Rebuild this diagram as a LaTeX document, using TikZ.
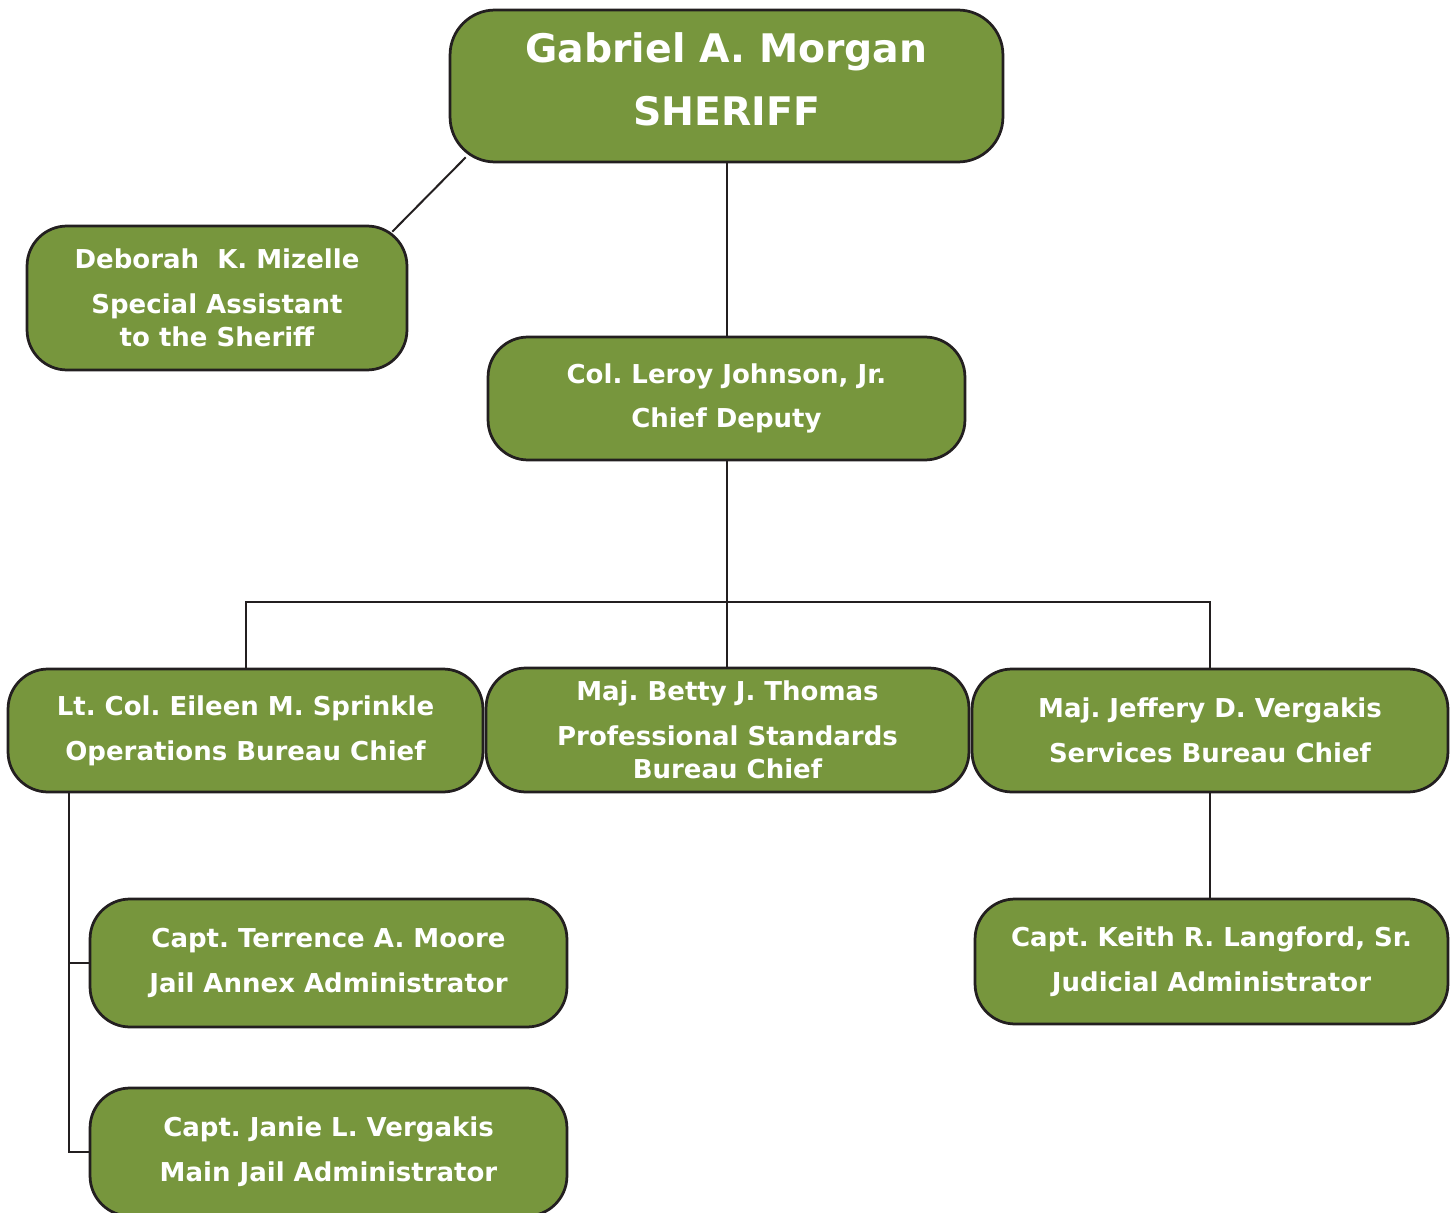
\documentclass[tikz,border=0pt]{standalone}
\usepackage{fontspec}
\setmainfont{DejaVu Sans}
\usetikzlibrary{calc}
\frenchspacing
\definecolor{sheriffgreen}{RGB}{119,150,61}
\definecolor{boxline}{RGB}{35,31,32}
\tikzset{
  box/.style={rectangle, rounded corners=0.8cm, draw=boxline, line width=0.055cm,
    fill=sheriffgreen, text=white, align=center, inner sep=0pt,
    font=\bfseries\fontsize{14.8}{18.7}\selectfont},
  link/.style={draw=boxline, line width=0.04cm}
}
\begin{document}
\begin{tikzpicture}[x=0.02cm, y=-0.02cm]
        \useasboundingbox (0,0) rectangle (1455,1213);
        %sheriff and assistant
        \node[box, rounded corners=0.9cm, minimum width=11.06cm, minimum height=3.04cm, text depth=0.28cm,
          font=\bfseries\fontsize{22.4}{35.7}\selectfont] (sheriff) at (726.5,86) {Gabriel A. Morgan\\SHERIFF};
        \node[box, minimum width=7.6cm, minimum height=2.88cm] (mizelle) at (217,298)
          {Deborah~~K. Mizelle\\[6.8pt]Special Assistant\\to the Sheriff};
        %chief deputy
        \node[box, minimum width=9.54cm, minimum height=2.46cm] (johnson) at (726.5,398.5)
          {Col. Leroy Johnson, Jr.\\[6.8pt]Chief Deputy};
        %bureau chiefs
        \node[box, minimum width=9.5cm, minimum height=2.46cm] (operations) at (245.5,730.5)
          {Lt. Col. Eileen M. Sprinkle\\[6.8pt]Operations Bureau Chief};
        \node[box, minimum width=9.66cm, minimum height=2.48cm] (standards) at (727.5,730)
          {Maj. Betty J. Thomas\\[6.8pt]Professional Standards\\Bureau Chief};
        \node[box, minimum width=9.52cm, minimum height=2.46cm] (services) at (1210,730.5)
          {Maj. Jeffery D. Vergakis\\[6.8pt]Services Bureau Chief};
        %administrators
        \node[box, minimum width=9.54cm, minimum height=2.56cm] (annex) at (328.5,963)
          {Capt. Terrence A. Moore\\[6.8pt]Jail Annex Administrator};
        \node[box, minimum width=9.54cm, minimum height=2.56cm] (mainjail) at (328.5,1152)
          {Capt. Janie L. Vergakis\\[6.8pt]Main Jail Administrator};
        \node[box, minimum width=9.46cm, minimum height=2.5cm] (judicial) at (1211.5,961.5)
          {Capt. Keith R. Langford, Sr.\\[6.8pt]Judicial Administrator};
        %connectors
        \coordinate (bar) at (726.5,602);
        \coordinate (trunk) at (69,792);
        \draw[link] ($(sheriff.south west)+(17,-6)$) -- ($(mizelle.north east)+(-16,7)$);
        \draw[link] (sheriff) -- (johnson);
        \draw[link] (johnson.south) -- (johnson.south |- standards.north);
        \draw[link] (operations.north) |- (bar) -| (services.north);
        \draw[link] (trunk |- operations.south) |- (mainjail.west);
        \draw[link] (trunk |- annex.west) -- (annex.west);
        \draw[link] (services.south) -- (services.south |- judicial.north);
\end{tikzpicture}
\end{document}
